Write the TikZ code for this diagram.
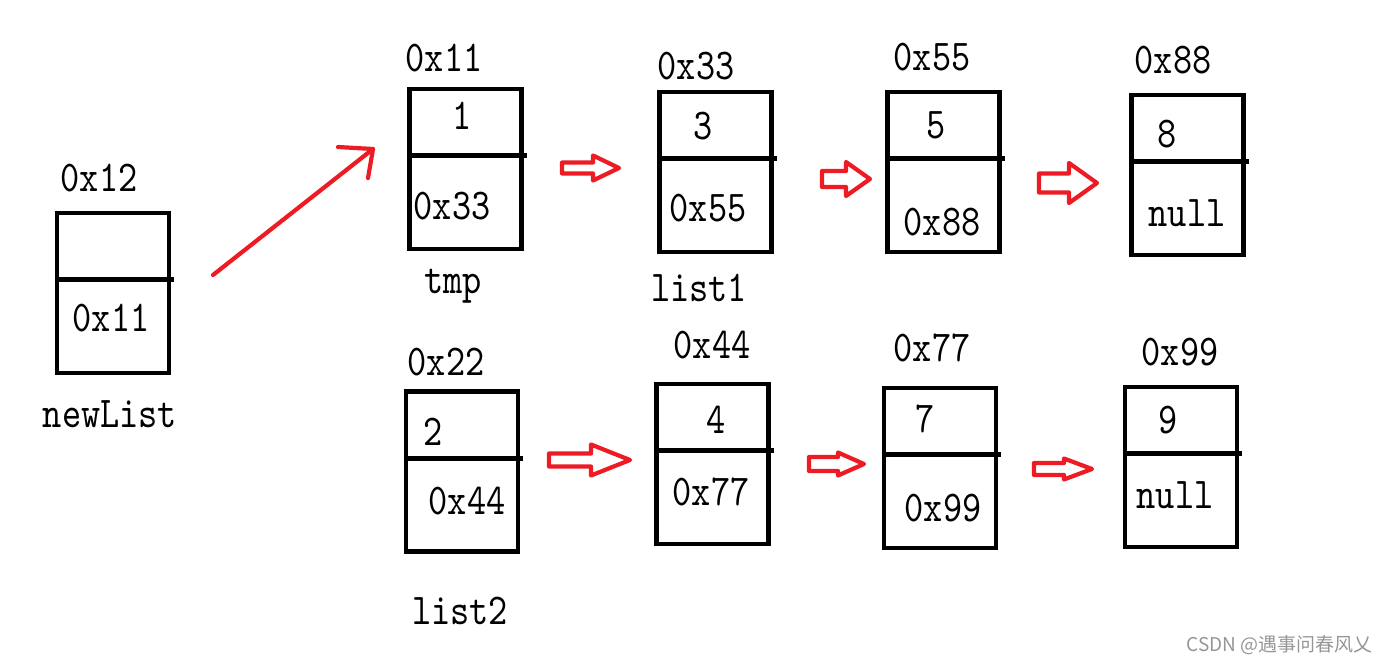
\documentclass[tikz,border=0pt]{standalone}
\usepackage{fontspec}
\usepackage{xcolor}
\usepackage{tikz}
\usetikzlibrary{positioning}

\newfontfamily\codefont[FakeStretch=0.83]{lmmono10-regular.otf}
\newfontfamily\cjk{Noto Sans CJK SC}
\definecolor{paintred}{RGB}{237,28,36}
\definecolor{markgray}{RGB}{150,150,150}

% hollow arrow: tail x, head base x, tip x, mid y, shaft half, head half
\newcommand{\hollowarrow}[6]{%
  \draw[redline] (#1,{#4-#5}) -- (#2,{#4-#5}) -- (#2,{#4-#6}) -- (#3,#4)
    -- (#2,{#4+#6}) -- (#2,{#4+#5}) -- (#1,{#4+#5}) -- cycle;}

\begin{document}
\begin{tikzpicture}[
    x=0.5pt, y=-0.5pt,
    cell/.style={draw, line width=2.4pt, minimum width=56pt, minimum height=80pt, inner sep=0pt},
    txt/.style={font=\codefont\fontsize{22}{24}\selectfont, inner sep=0pt, anchor=base},
    redline/.style={draw=paintred, line width=2.1pt, line cap=round, line join=round}
]
\useasboundingbox (0,0) rectangle (1387,663);

% list cells
\node[cell] (newlist) at (113,293) {};
\node[cell] (tmp) at (465.5,169) {};
\node[cell] (list1) at (715.5,172) {};
\node[cell] (n5) at (943.5,172) {};
\node[cell] (n8) at (1187.5,175) {};
\node[cell] (list2) at (462,471.5) {};
\node[cell] (n4) at (712.5,464) {};
\node[cell] (n7) at (940,468) {};
\node[cell] (n9) at (1181,467) {};
\foreach \c in {newlist,tmp,list1,n5,n8,list2,n4,n7,n9}
  \draw[line width=2.4pt] ([yshift=-34.5pt]\c.north west) -- ([xshift=1.5pt,yshift=-34.5pt]\c.north east);

% addresses, values, names
\node[txt] (newlist-adr) at (99,192) {0x12};
\node[txt] (newlist-next) at (111,332) {0x11};
\node[txt] (newlist-name) at (110,427) {newList};

\node[txt] (tmp-adr) at (444,72) {0x11};
\node[txt] (tmp-val) at (462,130) {1};
\node[txt] (tmp-next) at (452,220) {0x33};
\node[txt] (tmp-name) at (453,294) {tmp};

\node[txt] (list1-adr) at (696,80) {0x33};
\node[txt] (list1-val) at (703,140) {3};
\node[txt] (list1-next) at (708,222) {0x55};
\node[txt] (list1-name) at (699,302) {list1};

\node[txt] (n5-adr) at (932,71) {0x55};
\node[txt] (n5-val) at (936,139) {5};
\node[txt] (n5-next) at (942,236) {0x88};

\node[txt] (n8-adr) at (1173,74) {0x88};
\node[txt] (n8-val) at (1167,148) {8};
\node[txt] (n8-next) at (1187,227) {null};

\node[txt] (list2-adr) at (446,375) {0x22};
\node[txt] (list2-val) at (433,445) {2};
\node[txt] (list2-next) at (467,514) {0x44};
\node[txt] (list2-name) at (460,624) {list2};

\node[txt] (n4-adr) at (712,358) {0x44};
\node[txt] (n4-val) at (716,433) {4};
\node[txt] (n4-next) at (711,505) {0x77};

\node[txt] (n7-adr) at (932,362) {0x77};
\node[txt] (n7-val) at (925,432) {7};
\node[txt] (n7-next) at (943,521) {0x99};

\node[txt] (n9-adr) at (1180,365) {0x99};
\node[txt] (n9-val) at (1168,433) {9};
\node[txt] (n9-next) at (1175,508) {null};

% pointer from newList to tmp
\coordinate (ptr-tail) at (213,275);
\coordinate (ptr-head) at (373,149);
\coordinate (hook-a) at (338,147);
\coordinate (hook-b) at (368,178);
\draw[redline] (ptr-tail) -- (ptr-head);
\draw[redline] (hook-a) -- (ptr-head) -- (hook-b);

% hollow arrows between cells
\hollowarrow{562}{593}{619}{168}{5.5}{12.5}
\hollowarrow{822}{846}{870}{179}{8}{17}
\hollowarrow{1039}{1069}{1097}{183}{9.5}{20}
\hollowarrow{549}{591}{630}{460}{6.5}{15.5}
\hollowarrow{809}{838}{864}{464}{7}{11.5}
\hollowarrow{1034}{1064}{1092}{469}{6}{10.5}

% watermark
\node[anchor=base east, inner sep=0pt, text=markgray, font=\cjk\fontsize{9.5}{11}\selectfont] (mark) at (1373,651) {CSDN @遇事问春风乂};
\end{tikzpicture}
\end{document}
